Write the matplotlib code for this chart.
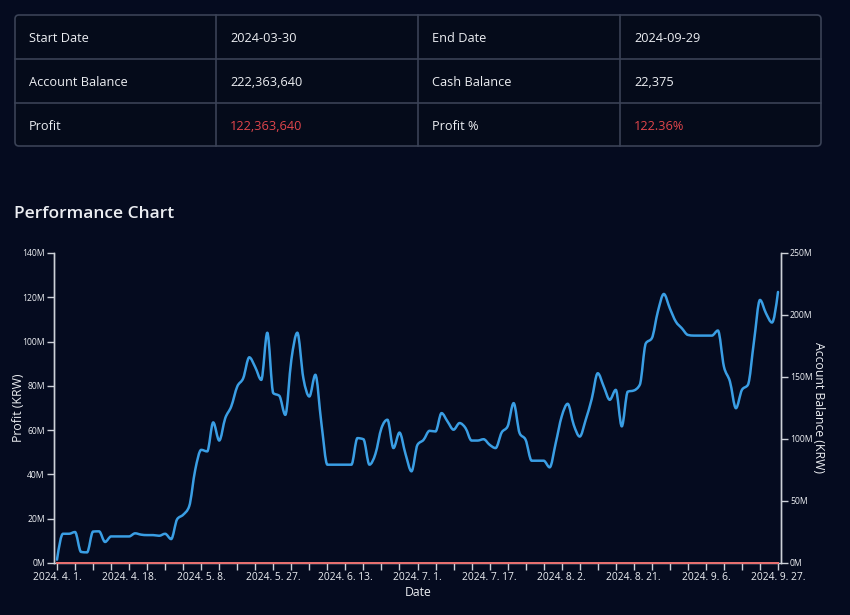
import numpy as np
import matplotlib
matplotlib.use("Agg")
import matplotlib.pyplot as plt
from matplotlib.path import Path
from matplotlib.patches import PathPatch, FancyBboxPatch

plt.rcParams['font.family'] = ['Open Sans', 'DejaVu Sans']

# summary table
left_keys = ["Start Date", "Account Balance", "Profit"]
left_values = ["2024-03-30", "222,363,640", "122,363,640"]
right_keys = ["End Date", "Cash Balance", "Profit %"]
right_values = ["2024-09-29", "22,375", "122.36%"]
value_is_profit = [False, False, True]

# x axis: trading days, one label every 12 days
date_labels = ["2024. 4. 1.", "2024. 4. 18.", "2024. 5. 8.", "2024. 5. 27.",
               "2024. 6. 13.", "2024. 7. 1.", "2024. 7. 17.", "2024. 8. 2.",
               "2024. 8. 21.", "2024. 9. 6.", "2024. 9. 27."]

# profit in millions of KRW, one value per trading day
profit = [1.5, 13.2, 13.2, 14.0, 5.0, 4.8, 14.2, 14.3, 9.5, 12.0,
          12.0, 12.0, 12.0, 13.4, 12.8, 12.6, 12.6, 12.3, 13.2, 10.8,
          19.8, 21.8, 25.6, 42.0, 51.1, 50.4, 63.5, 55.3, 65.4, 70.7,
          79.7, 83.5, 92.9, 88.4, 82.7, 104.0, 76.7, 75.5, 66.9, 91.7,
          104.0, 83.5, 75.2, 85.0, 63.2, 44.4, 44.4, 44.4, 44.4, 44.4,
          56.4, 55.9, 44.4, 49.3, 60.9, 64.7, 51.9, 58.9, 49.3, 41.4,
          53.4, 55.6, 59.7, 59.4, 67.7, 63.9, 60.2, 63.2, 60.9, 55.3,
          55.3, 55.9, 53.4, 51.9, 58.9, 61.7, 72.2, 58.6, 55.6, 46.2,
          46.2, 46.2, 43.2, 54.1, 66.2, 71.9, 62.4, 57.1, 64.7, 74.1,
          85.7, 79.7, 73.7, 78.2, 61.7, 77.4, 77.9, 80.5, 99.2, 101.5,
          113.5, 121.5, 115.0, 109.0, 106.0, 103.0, 102.7, 102.7, 102.7, 102.7,
          105.0, 88.7, 82.0, 69.9, 78.2, 80.5, 100.0, 118.8, 112.8, 108.6,
          122.4]
loss = [0.0] * len(profit)

profit_ticks = [0, 20, 40, 60, 80, 100, 120, 140]
balance_ticks = [0, 50, 100, 150, 200, 250]

BG = '#050b1f'
CELL = '#050b1a'
FG = '#eceef2'
GRID = '#3a4256'
RED = '#e0454b'
BLUE = '#3a9ee4'
AXIS = '#cdd1d8'


def monotone_path(x, y):
    # same as d3.curveMonotoneX
    x = np.asarray(x, float)
    y = np.asarray(y, float)
    h = np.diff(x)
    s = np.diff(y) / h
    n = len(x)
    t = np.zeros(n)
    for k in range(1, n - 1):
        s0, s1 = s[k - 1], s[k]
        p = (s0 * h[k] + s1 * h[k - 1]) / (h[k - 1] + h[k])
        sg = (-1 if s0 < 0 else 1) + (-1 if s1 < 0 else 1)
        t[k] = sg * min(abs(s0), abs(s1), 0.5 * abs(p))
    t[0] = (3 * s[0] - t[1]) / 2
    t[-1] = (3 * s[-1] - t[-2]) / 2
    verts = [(x[0], y[0])]
    codes = [Path.MOVETO]
    for k in range(n - 1):
        dx = h[k] / 3
        verts += [(x[k] + dx, y[k] + dx * t[k]),
                  (x[k + 1] - dx, y[k + 1] - dx * t[k + 1]),
                  (x[k + 1], y[k + 1])]
        codes += [Path.CURVE4] * 3
    return Path(verts, codes)


fig = plt.figure(figsize=(8.5, 6.15), dpi=100, facecolor=BG)

# overlay in pixel coordinates for the table and headings
over = fig.add_axes([0, 0, 1, 1])
over.set_xlim(0, 850)
over.set_ylim(615, 0)
over.axis('off')

over.add_patch(FancyBboxPatch((15, 15), 806, 131, boxstyle="round,pad=0,rounding_size=4",
                              fc=CELL, ec=GRID, lw=1.2))
for xv in [216, 418, 620]:
    over.plot([xv, xv], [15, 146], color=GRID, lw=1.2)
for yv in [59, 103]:
    over.plot([15, 821], [yv, yv], color=GRID, lw=1.2)

row_y = [38, 82, 126]
for r in range(3):
    vc = RED if value_is_profit[r] else FG
    over.text(29, row_y[r], left_keys[r], color=FG, fontsize=9.2, va='center')
    over.text(230, row_y[r], left_values[r], color=vc, fontsize=9.2, va='center')
    over.text(432, row_y[r], right_keys[r], color=FG, fontsize=9.2, va='center')
    over.text(634, row_y[r], right_values[r], color=vc, fontsize=9.2, va='center')

over.text(14, 214, "Performance Chart", color=FG, fontsize=12.5, va='center', fontweight='semibold')
over.text(19, 408, "Profit (KRW)", color=FG, fontsize=8.8, rotation=90, ha='center', va='center')
over.text(819, 408, "Account Balance (KRW)", color=FG, fontsize=8.8, rotation=270, ha='center', va='center')
over.text(418, 592, "Date", color=FG, fontsize=8.8, ha='center', va='center')

# chart
ax = fig.add_axes([54 / 850, 1 - 563 / 615, 727 / 850, 310 / 615])
ax.set_facecolor('none')
idx = np.arange(len(profit))
ax.set_xlim(-0.5, len(profit) - 0.5)
ax.set_ylim(0, 140)

ax.set_xticks(idx[::12])
ax.set_xticklabels(date_labels)
ax.set_xticks(idx[::3], minor=True)
ax.set_yticks(profit_ticks)
ax.set_yticklabels([f"{v}M" for v in profit_ticks])

ax2 = ax.twinx()
ax2.set_ylim(0, 250)
ax2.set_yticks(balance_ticks)
ax2.set_yticklabels([f"{v}M" for v in balance_ticks])

for a in (ax, ax2):
    a.spines['top'].set_visible(False)
    for sp in ['left', 'right', 'bottom']:
        a.spines[sp].set_color(AXIS)
        a.spines[sp].set_linewidth(1.0)
    a.tick_params(axis='y', colors=AXIS, labelcolor=FG, labelsize=6.2, length=5, width=1, pad=1.5)
ax2.spines['bottom'].set_visible(False)
ax.tick_params(axis='x', which='both', colors=AXIS, labelcolor=FG, labelsize=7.4,
               length=5, width=1, pad=1.5)

# draw the series on the top axes so the zero line sits over the spine
ax2.add_patch(PathPatch(monotone_path(idx, np.array(profit) * 250 / 140), fill=False, ec=BLUE,
                        lw=1.8, capstyle='round', joinstyle='round', zorder=3))
ax.plot(idx, loss, color='#e87070', lw=1.4, zorder=5, clip_on=False)
ax2.plot(idx, loss, color='#e87070', lw=1.4, zorder=5, clip_on=False)

fig.savefig("out.png", dpi=100, facecolor=BG)
